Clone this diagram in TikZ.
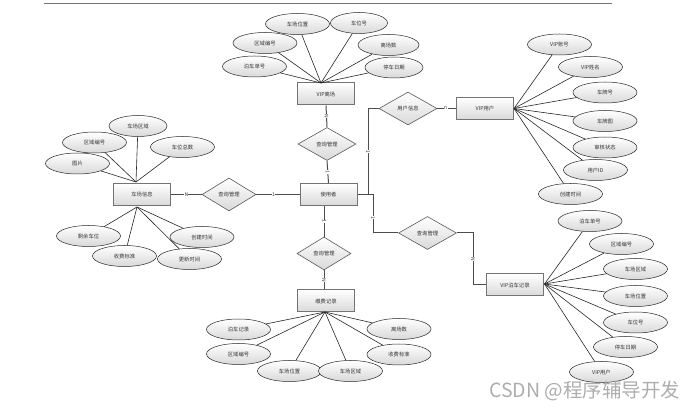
\documentclass[tikz,border=0pt]{standalone}
\usepackage{fontspec}
\setmainfont{Noto Sans CJK SC}
\usetikzlibrary{shapes.geometric,calc}
\begin{document}
\begin{tikzpicture}[x=1pt,y=-1pt,
  attr/.style={ellipse,draw=black!85,line width=0.5pt,top color=white,bottom color=black!15,
    minimum width=64pt,minimum height=21pt,inner sep=0pt,font=\fontsize{5.3}{6}\selectfont,text=black!80},
  ent/.style={rectangle,draw=black!55,line width=1pt,top color=white,bottom color=black!15,
    minimum width=57pt,minimum height=22pt,inner sep=0pt,font=\fontsize{5.3}{6}\selectfont,text=black!80},
  rel/.style={diamond,draw=black!65,line width=0.6pt,top color=white,bottom color=black!15,
    minimum width=58pt,minimum height=33pt,inner sep=0pt,font=\fontsize{5.3}{6}\selectfont,text=black!80},
  alink/.style={draw=black!85,line width=0.6pt},
  rlink/.style={draw=black!70,line width=1pt},
  card/.style={fill=white,inner sep=0.3pt,font=\fontsize{5}{5}\selectfont,text=black!80}
]
\useasboundingbox (0,0) rectangle (696,411);
\draw[black!55,line width=0.8pt] (44,3) coordinate (tl) -- (612,3) coordinate (tr);

% ---------- entities ----------
\node[ent] (vipout) at (326,94) {VIP离场};
\node[ent] (park)   at (142,194.5) {车场信息};
\node[ent] (user)   at (328.5,194.5) {使用者};
\node[ent] (pay)    at (326,301) {缴费记录};
\node[ent] (vipu)   at (485,108.5) {VIP用户};
\node[ent] (viprec) at (515,285) {VIP泊车记录};

% ---------- relationships ----------
\node[rel] (qT) at (327,144) {查询管理};
\node[rel,minimum width=54pt] (qL) at (229,194.5) {查询管理};
\node[rel,minimum width=54pt] (qB) at (324,253.5) {查询管理};
\node[rel] (uinfo) at (408,108.5) {用户信息};
\node[rel] (qR) at (427.5,233) {查询管理};

% ---------- VIP离场 attributes ----------
\coordinate (vT) at (321,83);
\node[attr] (a1) at (297.5,24) {车场位置};
\node[attr,minimum width=57pt] (a2) at (359,23) {车位号};
\node[attr] (a3) at (265,43) {区域编号};
\node[attr,minimum width=61pt] (a4) at (388.5,45) {离场数};
\node[attr] (a5) at (254.5,66.5) {泊车单号};
\node[attr,minimum width=58pt] (a6) at (394,67.5) {停车日期};
\foreach \n in {a1,a2,a3,a4,a5,a6} \draw[alink] (vT) -- (\n);

% ---------- 车场信息 attributes ----------
\coordinate (pT) at (136,182);
\coordinate (pB) at (137,207);
\node[attr,minimum width=58pt] (b1) at (138,126) {车场区域};
\node[attr] (b2) at (94.5,142.5) {区域编号};
\node[attr] (b3) at (182.5,147) {车位总数};
\node[attr] (b4) at (77.5,163.5) {图片};
\foreach \n in {b1,b2,b3,b4} \draw[alink] (pT) -- (\n);
\node[attr] (b5) at (88.5,236) {剩余车位};
\node[attr] (b6) at (124.5,256) {收费标准};
\node[attr] (b7) at (202,237) {创建时间};
\node[attr] (b8) at (189.5,259) {更新时间};
\foreach \n in {b5,b6,b7,b8} \draw[alink] (pB) -- (\n);

% ---------- 缴费记录 attributes ----------
\coordinate (yB) at (325,312);
\node[attr] (c1) at (238.5,329.5) {泊车记录};
\node[attr] (c2) at (238.5,354) {区域编号};
\node[attr] (c3) at (289.5,371) {车场位置};
\node[attr] (c4) at (350.5,371) {车场区域};
\node[attr] (c5) at (399,329) {离场数};
\node[attr] (c6) at (399,354.5) {收费标准};
\foreach \n in {c1,c2,c3,c4,c5,c6} \draw[alink] (yB) -- (\n);

% ---------- VIP用户 attributes ----------
\coordinate (uE) at (514,108.5);
\node[attr] (d1) at (559.5,44.5) {VIP账号};
\node[attr] (d2) at (590.5,67) {VIP姓名};
\node[attr] (d3) at (605,92.5) {车牌号};
\node[attr] (d4) at (605,121) {车牌图};
\node[attr] (d5) at (605,147.5) {审核状态};
\node[attr] (d6) at (595.5,170) {用户ID};
\node[attr] (d7) at (570.5,194) {创建时间};
\foreach \n in {d1,d2,d3,d4,d5,d6,d7} \draw[alink] (uE) -- (\n);

% ---------- VIP泊车记录 attributes ----------
\coordinate (rE) at (544.5,284);
\node[attr] (e1) at (590,221) {泊车单号};
\node[attr] (e2) at (621.5,244) {区域编号};
\node[attr] (e3) at (635.5,269) {车场区域};
\node[attr] (e4) at (635.5,296) {车场位置};
\node[attr] (e5) at (635.5,322.5) {车位号};
\node[attr] (e6) at (625.5,347) {停车日期};
\node[attr] (e7) at (601.5,372) {VIP用户};
\foreach \n in {e1,e2,e3,e4,e5,e6,e7} \draw[alink] (rE) -- (\n);

% ---------- relationship connectors ----------
\draw[rlink] (park.east) -- (qL.west) node[card,pos=0.5] (l1) {N};
\draw[rlink] (qL.east) -- (user.west) node[card,pos=0.4] (l2) {1};
\draw[rlink] (user.north) -- (qT.south) node[card,pos=0.5,rotate=-90] (l3) {1};
\draw[rlink] (qT.north) -- (vipout.south) node[card,pos=0.5,rotate=-90] (l4) {N};
\draw[rlink] ($(user.south)+(-4,0)$) coordinate (us) -- (us |- qB.north) node[card,pos=0.5,rotate=-90] (l5) {1};
\draw[rlink] (qB.south) -- (qB.south |- pay.north) node[card,pos=0.5,rotate=-90] (l6) {N};

\coordinate (j1) at (368,194.5);
\coordinate (j2) at (373,194.5);
\draw[rlink] (user.east) -- (j2);
\draw[rlink] (j1) -- (j1 |- uinfo.west) node[card,pos=0.5,rotate=-90] (l7) {1} -- (uinfo.west);
\draw[rlink] (uinfo.east) -- (vipu.west) node[card,pos=0.45] (l8) {n};
\draw[rlink] (j2) -- (j2 |- qR.west) node[card,pos=0.6,rotate=-90] (l9) {1} -- (qR.west);
\coordinate (k1) at (473,233);
\draw[rlink] (qR.east) -- (k1) -- (k1 |- viprec.west) node[card,pos=0.5,rotate=-90] (l10) {N} -- (viprec.west);

% ---------- watermark ----------
\node[anchor=west,inner sep=0pt,font=\fontsize{19.5}{21}\selectfont,text=black!32] (wm) at (489,391) {CSDN @程序辅导开发};
\end{tikzpicture}
\end{document}
